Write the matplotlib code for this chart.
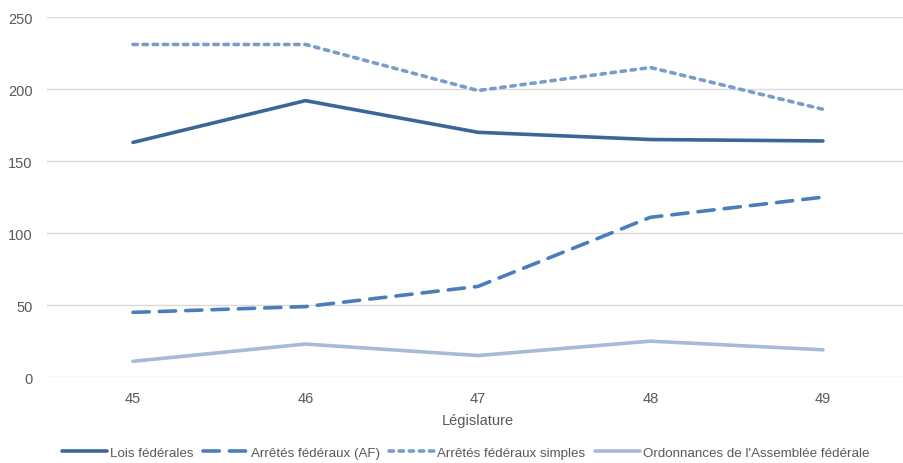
import matplotlib.pyplot as plt

legislatures = [45, 46, 47, 48, 49]
lois = [163, 192, 170, 165, 164]
arretes_af = [45, 49, 63, 111, 125]
arretes_simples = [231, 231, 199, 215, 186]
ordonnances = [11, 23, 15, 25, 19]

plt.rcParams['font.family'] = ['Liberation Sans', 'DejaVu Sans']
txt = '#595959'

fig = plt.figure(figsize=(9.04, 4.64), dpi=100)
ax = fig.add_axes([0.0517, 0.185, 0.954, 0.776])

ax.plot(legislatures, lois, color='#3a6796', lw=2.6, label='Lois fédérales', solid_capstyle='round')
ax.plot(legislatures, arretes_af, color='#4a7ebb', lw=2.6, dashes=(4.5, 2.8), label='Arrêtés fédéraux (AF)', dash_capstyle='round')
ax.plot(legislatures, arretes_simples, color='#7a9ccb', lw=2.6, dashes=(1.2, 1.6), label='Arrêtés fédéraux simples', dash_capstyle='round')
ax.plot(legislatures, ordonnances, color='#a7bad7', lw=2.6, label="Ordonnances de l'Assemblée fédérale", solid_capstyle='round')

ax.set_xlim(44.5, 49.5)
ax.set_ylim(0, 250)
ax.set_xticks(legislatures)
ax.set_yticks(range(0, 251, 50))
ax.grid(axis='y', color='#d9d9d9', lw=1)
ax.set_axisbelow(True)
for s in ax.spines.values():
    s.set_visible(False)
ax.tick_params(length=0, colors=txt, labelsize=10.5)
ax.tick_params(axis='x', pad=10)
ax.tick_params(axis='y', pad=10)
ax.set_xlabel('Législature', color=txt, fontsize=10.5, labelpad=6)

fig.legend(loc='lower center', bbox_to_anchor=(0.515, -0.017), ncol=4, frameon=False,
           fontsize=9.6, labelcolor=txt, handlelength=3.4, handletextpad=0.2, columnspacing=0.7)

fig.savefig('out.png', dpi=100)
